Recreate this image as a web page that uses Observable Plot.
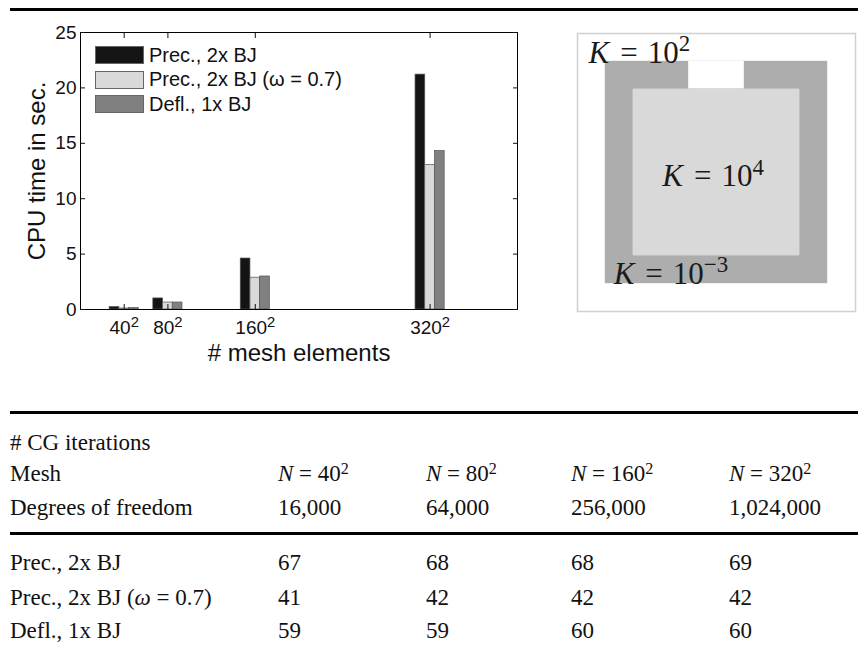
<!DOCTYPE html>
<html><head><meta charset="utf-8">
<script src="https://cdn.jsdelivr.net/npm/d3@7"></script>
<script src="https://cdn.jsdelivr.net/npm/@observablehq/plot@0.6"></script>
<style>
body{margin:0;background:#fff;}
#root{position:relative;width:858px;height:650px;overflow:hidden;font-family:"Liberation Sans",Arial,sans-serif;background:#fff;}
.rule{position:absolute;left:10px;right:0;height:3px;background:#000;}
#chart{position:absolute;left:0;top:0;}
#diagram{position:absolute;left:560px;top:0;}
#legend{position:absolute;left:95px;top:43px;font-size:20px;color:#111;}
.lrow{display:flex;align-items:center;height:24.5px;}
.sw{width:47px;height:16px;border:1px solid #666;margin-right:5px;}
.cell{position:absolute;font-family:"Liberation Serif","Times New Roman",serif;font-size:23px;line-height:23px;white-space:nowrap;color:#111;}
.cell sup{font-size:70%;line-height:0;vertical-align:0.45em;}
</style></head>
<body><div id="root">
<div class="rule" style="top:8px"></div>
<div id="chart"></div>
<div id="legend"></div>
<div id="diagram"></div>
<div class="rule" style="top:411px"></div>
<div class="rule" style="top:532px"></div>
<div id="table"></div>
</div>
<script>
// ---------- data ----------
const meshN = [40, 80, 160, 320];
const methods = ["Prec., 2x BJ", "Prec., 2x BJ (ω = 0.7)", "Defl., 1x BJ"];
const cpuPrec = [0.22, 1.0, 4.6, 21.2];
const cpuPrecOmega = [0.09, 0.63, 2.87, 13.05];
const cpuDefl = [0.13, 0.63, 2.98, 14.3];
const yTicks = [0, 5, 10, 15, 20, 25];
const barColors = ["#141414", "#d9d9d9", "#808080"];

const dof = ["16,000", "64,000", "256,000", "1,024,000"];
const itPrec = [67, 68, 68, 69];
const itPrecOmega = [41, 42, 42, 42];
const itDefl = [59, 59, 60, 60];

// permeability regions of the unit-square domain (exponent of K)
const regionKExp = [2, -3, 2, 4];
const regionX1 = [0, 0.1, 0.4, 0.2];
const regionX2 = [1, 0.9, 0.6, 0.8];
const regionY1 = [0, 0.1, 0.8, 0.2];
const regionY2 = [1, 0.9, 0.9, 0.8];
const kLabelExp = [2, 4, -3];
const kLabelX = [0.04, 0.305, 0.13];
const kLabelY = [0.895, 0.45, 0.1];

// ---------- bar chart ----------
const series = [cpuPrec, cpuPrecOmega, cpuDefl];
const bars = meshN.flatMap((n, j) => series.map((s, i) => ({n, i, method: methods[i], t: s[j]})));
const minGap = d3.min(d3.pairs(meshN), ([a, b]) => b - a);
const groupSpan = minGap * 3 / (3 + 1.5);
const barW = groupSpan / 3;

const chart = Plot.plot({
  width: 560, height: 380,
  marginLeft: 80, marginRight: 43, marginTop: 32, marginBottom: 71,
  style: {fontFamily: "Liberation Sans, Arial, sans-serif", color: "#111", background: "transparent"},
  x: {domain: [0, 400]},
  y: {domain: [0, 25]},
  color: {domain: methods, range: barColors},
  marks: [
    Plot.rectY(bars, {
      x1: d => d.n - groupSpan / 2 + d.i * barW,
      x2: d => d.n - groupSpan / 2 + (d.i + 1) * barW,
      y: "t", fill: "method", stroke: "#555", strokeWidth: 0.7
    }),
    Plot.frame({stroke: "#000"}),
    Plot.axisX({anchor: "bottom", ticks: meshN, tickSize: -5, fill: "none", label: null}),
    Plot.axisX({anchor: "top", ticks: meshN, tickSize: -5, fill: "none", label: null}),
    Plot.axisY({anchor: "left", ticks: yTicks, tickSize: -5, fill: "none", label: null}),
    Plot.axisY({anchor: "right", ticks: yTicks, tickSize: -5, fill: "none", label: null}),
    Plot.axisX({anchor: "bottom", ticks: meshN, tickSize: 0, tickPadding: 11, fontSize: 19,
      tickFormat: d => `${d}²`, label: null}),
    Plot.axisY({anchor: "left", ticks: yTicks, tickSize: 0, tickPadding: 4, fontSize: 19, label: null}),
    Plot.text(["# mesh elements"], {frameAnchor: "bottom", dy: 51, lineAnchor: "bottom", fontSize: 24}),
    Plot.text(["CPU time in sec."], {frameAnchor: "left", dx: -53, rotate: -90, textAnchor: "middle",
      lineAnchor: "top", fontSize: 24})
  ]
});
document.getElementById("chart").append(chart);
// superscripts in tick labels
d3.select(chart).selectAll("text").each(function () {
  const s = this.textContent;
  if (s.endsWith("²") && this.childElementCount === 0) {
    const base = s.slice(0, -1);
    this.textContent = base;
    d3.select(this).append("tspan").attr("dy", "-0.48em").attr("font-size", "78%").text("2");
  }
});

// legend
const legend = d3.select("#legend");
methods.forEach((m, i) => {
  const row = legend.append("div").attr("class", "lrow");
  row.append("div").attr("class", "sw").style("background", barColors[i]);
  row.append("span").text(m);
});

// ---------- diagram ----------
const regions = regionKExp.map((k, i) => ({k, x1: regionX1[i], x2: regionX2[i], y1: regionY1[i], y2: regionY2[i]}));
const kLabels = kLabelExp.map((e, i) => ({e, x: kLabelX[i], y: kLabelY[i]}));
const diagram = Plot.plot({
  width: 298, height: 330,
  marginLeft: 17, marginRight: 3, marginTop: 33, marginBottom: 19,
  style: {background: "transparent"},
  x: {domain: [0, 1], axis: null},
  y: {domain: [0, 1], axis: null},
  color: {type: "ordinal", domain: [2, -3, 4], range: ["#ffffff", "#adadad", "#d9d9d9"]},
  marks: [
    Plot.rect(regions, {x1: "x1", x2: "x2", y1: "y1", y2: "y2", fill: "k"}),
    Plot.frame({stroke: "#d0d0d0", strokeWidth: 1.5}),
    Plot.text(kLabels, {x: "x", y: "y", text: d => `K = 10^${d.e}`, textAnchor: "start", lineAnchor: "bottom",
      fontSize: 31, fontFamily: "Liberation Serif, serif", fill: "#1a1a1a"})
  ]
});
document.getElementById("diagram").append(diagram);
d3.select(diagram).selectAll("text").each(function () {
  const s = this.textContent;
  const m = s.match(/^K = 10\^(.+)$/);
  if (!m) return;
  this.textContent = "";
  const t = d3.select(this);
  t.append("tspan").attr("font-style", "italic").text("K");
  t.append("tspan").attr("dx", 11).text("=");
  t.append("tspan").attr("dx", 10).text("10");
  t.append("tspan").attr("dy", "-0.5em").attr("font-size", "74%").text(m[1].replace("-", "−"));
});

// ---------- table ----------
const table = document.getElementById("table");
const colX = [278, 426, 571, 729];
function cell(html, x, cy) {
  const d = document.createElement("div");
  d.className = "cell";
  d.style.left = x + "px";
  d.style.top = (cy - 11.5) + "px";
  d.innerHTML = html;
  table.append(d);
}
const methodHtml = ["Prec., 2x BJ", "Prec., 2x BJ (<i>ω</i> = 0.7)", "Defl., 1x BJ"];
cell("# CG iterations", 10, 442);
cell("Mesh", 10, 473);
meshN.forEach((n, j) => cell(`<i>N</i> = ${n}<sup>2</sup>`, colX[j], 473));
cell("Degrees of freedom", 10, 507);
dof.forEach((v, j) => cell(v, colX[j], 507));
const iters = [itPrec, itPrecOmega, itDefl];
const rowY = [562, 597, 630];
iters.forEach((arr, i) => {
  cell(methodHtml[i], 10, rowY[i]);
  arr.forEach((v, j) => cell(String(v), colX[j], rowY[i]));
});
</script>
</body></html>
